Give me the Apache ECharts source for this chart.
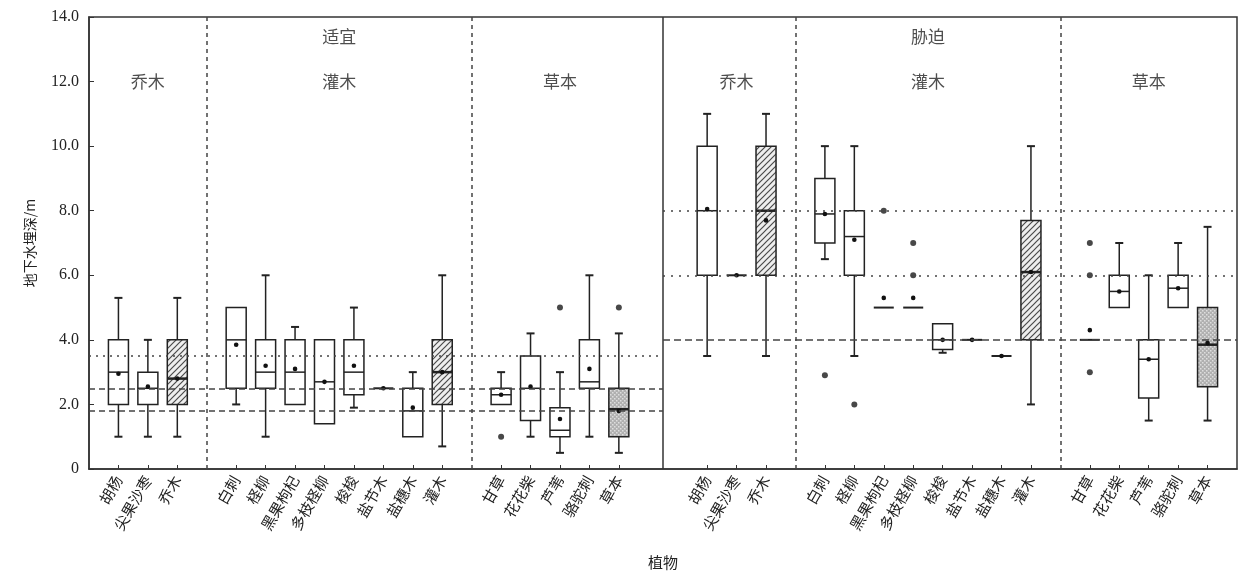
<!DOCTYPE html>
<html><head><meta charset="utf-8">
<script src="https://cdn.jsdelivr.net/npm/echarts@6/dist/echarts.min.js"></script>
<style>html,body{margin:0;padding:0;background:#fff}#c{width:1240px;height:575px}</style>
</head><body><div id="c"></div>
<script>
// ---------- data ----------
const panelNames = ['适宜', '胁迫'];
const groupNames = ['乔木', '灌木', '草本'];
const treeCats = ['胡杨', '尖果沙枣', '乔木'];
const shrubCats = ['白刺', '柽柳', '黑果枸杞', '多枝柽柳', '梭梭', '盐节木', '盐穗木', '灌木'];
const herbCats = ['甘草', '花花柴', '芦苇', '骆驼刺', '草本'];
const yTickLabels = ['0', '2.0', '4.0', '6.0', '8.0', '10.0', '12.0', '14.0'];

// [min, Q1, median, Q3, max] in category order (tree, shrub, herb)
const suitableBox = [
  [1.0, 2.0, 3.0, 4.0, 5.3], [1.0, 2.0, 2.5, 3.0, 4.0], [1.0, 2.0, 2.8, 4.0, 5.3],
  [2.0, 2.5, 4.0, 5.0, 5.0], [1.0, 2.5, 3.0, 4.0, 6.0], [2.0, 2.0, 3.0, 4.0, 4.4],
  [1.4, 1.4, 2.7, 4.0, 4.0], [1.9, 2.3, 3.0, 4.0, 5.0], [2.5, 2.5, 2.5, 2.5, 2.5],
  [1.0, 1.0, 1.8, 2.5, 3.0], [0.7, 2.0, 3.0, 4.0, 6.0],
  [2.0, 2.0, 2.3, 2.5, 3.0], [1.0, 1.5, 2.5, 3.5, 4.2], [0.5, 1.0, 1.2, 1.9, 3.0],
  [1.0, 2.5, 2.7, 4.0, 6.0], [0.5, 1.0, 1.85, 2.5, 4.2]
];
const suitableMean = [2.95, 2.55, 2.8, 3.85, 3.2, 3.1, 2.7, 3.2, 2.5, 1.9, 3.0, 2.3, 2.55, 1.55, 3.1, 1.8];
const suitableOutliers = [[11, 1.0], [13, 5.0], [15, 5.0]]; // [category index, value]

const stressBox = [
  [3.5, 6.0, 8.0, 10.0, 11.0], [6.0, 6.0, 6.0, 6.0, 6.0], [3.5, 6.0, 8.0, 10.0, 11.0],
  [6.5, 7.0, 7.9, 9.0, 10.0], [3.5, 6.0, 7.2, 8.0, 10.0], [5.0, 5.0, 5.0, 5.0, 5.0],
  [5.0, 5.0, 5.0, 5.0, 5.0], [3.6, 3.7, 4.0, 4.5, 4.5], [4.0, 4.0, 4.0, 4.0, 4.0],
  [3.5, 3.5, 3.5, 3.5, 3.5], [2.0, 4.0, 6.1, 7.7, 10.0],
  [4.0, 4.0, 4.0, 4.0, 4.0], [5.0, 5.0, 5.5, 6.0, 7.0], [1.5, 2.2, 3.4, 4.0, 6.0],
  [5.0, 5.0, 5.6, 6.0, 7.0], [1.5, 2.55, 3.85, 5.0, 7.5]
];
const stressMean = [8.05, 6.0, 7.7, 7.9, 7.1, 5.3, 5.3, 4.0, 4.0, 3.5, 6.1, 4.3, 5.5, 3.4, 5.6, 3.9];
const stressOutliers = [[3, 2.9], [4, 2.0], [5, 8.0], [6, 7.0], [6, 6.0], [11, 7.0], [11, 6.0], [11, 3.0]];

const suitableRefLines = [3.5, 2.5, 1.8];
const stressRefLines = [8.0, 6.0, 4.0];

// ---------- layout from group structure ----------
const groups = [treeCats, shrubCats, herbCats];
const PANEL_SPAN = 20;
function layoutPanel(offset) {
  const pos = [], dividers = [], centers = [], names = [], kinds = [];
  let p = offset + 1;
  groups.forEach((g, gi) => {
    if (gi > 0) { dividers.push(p); p++; }
    const start = p;
    g.forEach(n => {
      pos.push(p); names.push(n);
      kinds.push(groupNames.indexOf(n) === -1 ? 0 : (groupNames.indexOf(n) === 2 ? 2 : 1));
      p++;
    });
    centers.push((start + p - 1) / 2);
  });
  return { pos, dividers, centers, names, kinds, end: p };
}
const L = layoutPanel(0), R = layoutPanel(PANEL_SPAN);
const panelBoundary = PANEL_SPAN - 0.5;
const xMax = R.end;
const allPos = L.pos.concat(R.pos);
const nameAt = {};
L.pos.forEach((p, i) => nameAt[p] = L.names[i]);
R.pos.forEach((p, i) => nameAt[p] = R.names[i]);

function boxRows(lay, box, mean) {
  return box.map((b, i) => [lay.pos[i], b[0], b[1], b[2], b[3], b[4], mean[i], lay.kinds[i]]);
}
const boxData = boxRows(L, suitableBox, suitableMean).concat(boxRows(R, stressBox, stressMean));
const outlierData = suitableOutliers.map(o => [L.pos[o[0]], o[1]])
  .concat(stressOutliers.map(o => [R.pos[o[0]], o[1]]));

// ---------- patterns ----------
function hatchCanvas() {
  const c = document.createElement('canvas'); c.width = c.height = 6;
  const g = c.getContext('2d');
  g.fillStyle = '#eeeeee'; g.fillRect(0, 0, 6, 6);
  g.strokeStyle = '#4a4a4a'; g.lineWidth = 1.2;
  g.beginPath(); g.moveTo(0, 6); g.lineTo(6, 0); g.moveTo(-1, 1); g.lineTo(1, -1); g.moveTo(5, 7); g.lineTo(7, 5); g.stroke();
  return c;
}
function greyCanvas() {
  const c = document.createElement('canvas'); c.width = c.height = 4;
  const g = c.getContext('2d');
  g.fillStyle = '#b0b0b0'; g.fillRect(0, 0, 4, 4);
  g.fillStyle = '#dedede'; g.fillRect(0, 0, 1.5, 1.5); g.fillRect(2, 2, 1.5, 1.5);
  return c;
}
const fills = ['#ffffff', { image: hatchCanvas(), repeat: 'repeat' }, { image: greyCanvas(), repeat: 'repeat' }];

const INK = '#222';
function renderBox(params, api) {
  const x = api.value(0);
  const mn = api.value(1), q1 = api.value(2), md = api.value(3), q3 = api.value(4), mx = api.value(5);
  const mean = api.value(6), kind = api.value(7);
  const cx = api.coord([x, 0])[0];
  const hw = api.size([0.68, 0])[0] / 2;
  const Y = v => api.coord([x, v])[1];
  const ln = (x1, y1, x2, y2, w) => ({ type: 'line', shape: { x1, y1, x2, y2 }, style: { stroke: INK, lineWidth: w || 1.5 } });
  const ch = [];
  if (mx > q3) { ch.push(ln(cx, Y(q3), cx, Y(mx))); ch.push(ln(cx - 4, Y(mx), cx + 4, Y(mx), 2)); }
  if (mn < q1) { ch.push(ln(cx, Y(q1), cx, Y(mn))); ch.push(ln(cx - 4, Y(mn), cx + 4, Y(mn), 2)); }
  if (q3 > q1) {
    ch.push({ type: 'rect', shape: { x: cx - hw, y: Y(q3), width: 2 * hw, height: Y(q1) - Y(q3) },
      style: { fill: fills[kind], stroke: INK, lineWidth: 1.5 } });
    ch.push(ln(cx - hw, Y(md), cx + hw, Y(md), kind ? 2.5 : 1.5));
  } else {
    ch.push(ln(cx - hw, Y(md), cx + hw, Y(md), 2));
  }
  ch.push({ type: 'circle', shape: { cx, cy: Y(mean), r: 2.3 }, style: { fill: '#111' } });
  return { type: 'group', children: ch };
}

// ---------- reference / divider lines ----------
const mlData = [];
L.dividers.concat(R.dividers).forEach(d => mlData.push({ xAxis: d, lineStyle: { type: [4, 4], color: '#444', width: 1.5 } }));
mlData.push({ xAxis: panelBoundary, lineStyle: { type: 'solid', color: '#333', width: 1.5 } });
const refStyles = [[2, 5], [6, 4], [6, 4]];
suitableRefLines.forEach((v, i) => mlData.push([
  { coord: [0, v], lineStyle: { type: refStyles[i], color: '#444', width: 1.5 } }, { coord: [panelBoundary, v] }]));
const refStylesR = [[2, 6], [2, 6], [7, 4]];
stressRefLines.forEach((v, i) => mlData.push([
  { coord: [panelBoundary, v], lineStyle: { type: refStylesR[i], color: '#444', width: 1.5 } }, { coord: [xMax, v] }]));

// ---------- titles ----------
const titleData = [];
[L, R].forEach((lay, pi) => {
  lay.centers.forEach((c, gi) => titleData.push({ value: [c, 12], name: groupNames[gi] }));
  titleData.push({ value: [lay.centers[1], 13.4], name: panelNames[pi] });
});

const CJK = '"Noto Sans CJK SC", sans-serif';
const chart = echarts.init(document.getElementById('c'), null, { renderer: 'canvas' });
chart.setOption({
  animation: false,
  backgroundColor: '#fff',
  grid: { left: 89, right: 3, top: 17, bottom: 106, show: true, borderColor: '#333', borderWidth: 1.5,
    containLabel: false, outerBoundsMode: 'none' },
  xAxis: {
    type: 'value', min: 0, max: xMax, interval: 1,
    splitLine: { show: false },
    axisLine: { lineStyle: { color: '#333', width: 1.5 } },
    axisTick: { inside: true, length: 4, customValues: allPos, lineStyle: { color: '#333' } },
    axisLabel: { customValues: allPos, formatter: v => nameAt[v] || '', rotate: 60, fontSize: 15,
      color: '#222', margin: 8, fontFamily: CJK },
    name: '植物', nameLocation: 'middle', nameGap: 86,
    nameTextStyle: { fontSize: 15, color: '#222', fontFamily: CJK }
  },
  yAxis: {
    type: 'value', min: 0, max: 14, interval: 2,
    splitLine: { show: false },
    axisLine: { show: true, lineStyle: { color: '#333', width: 1.5 } },
    axisTick: { inside: true, length: 5, lineStyle: { color: '#333' } },
    axisLabel: { formatter: v => yTickLabels[Math.round(v / 2)], fontFamily: '"Liberation Serif", serif',
      fontSize: 16, color: '#222', margin: 10 },
    name: '地下水埋深/m', nameLocation: 'middle', nameGap: 52,
    nameTextStyle: { fontSize: 14, color: '#222', fontFamily: CJK }
  },
  series: [
    { type: 'custom', renderItem: renderBox, data: boxData, encode: { x: 0, y: [1, 2, 3, 4, 5] }, z: 3 },
    { type: 'scatter', data: outlierData, symbol: 'circle', symbolSize: 6, itemStyle: { color: '#1a1a1a' }, z: 4,
      markLine: { silent: true, symbol: 'none', label: { show: false }, data: mlData } },
    { type: 'scatter', data: titleData, symbolSize: 0, silent: true,
      label: { show: true, position: 'inside', formatter: p => p.name, fontSize: 17, color: '#222', fontFamily: CJK } }
  ]
});
</script></body></html>
